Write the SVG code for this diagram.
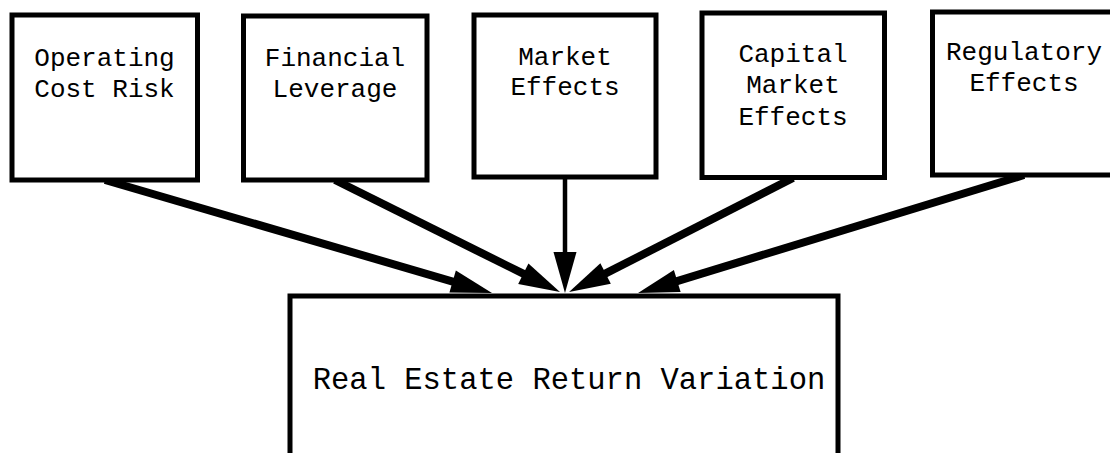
<svg xmlns="http://www.w3.org/2000/svg" width="1110" height="453" viewBox="0 0 1110 453">
  <style>
    .box { fill: #ffffff; stroke: #000000; stroke-width: 5; }
    .lbl { font-family: "Liberation Mono", "Courier New", monospace; font-size: 26px; fill: #000000; text-anchor: middle; }
    .big { font-family: "Liberation Mono", "Courier New", monospace; font-size: 30.5px; fill: #000000; text-anchor: middle; }
    .conn { stroke: #000000; stroke-width: 8; fill: none; stroke-linecap: butt; }
    .thin { stroke-width: 4.5; }
  </style>
  <defs>
    <marker id="ah" markerUnits="userSpaceOnUse" markerWidth="44" markerHeight="26" viewBox="-2 -12 44 24" refX="0" refY="0" orient="auto">
      <path d="M-1,-11.5 L40,0 L-1,11.5 Z" fill="#000000"/>
    </marker>
  </defs>
  <rect width="1110" height="453" fill="#ffffff"/>

  <g id="connectors">
    <line class="conn" x1="105" y1="180" x2="453.6" y2="281.8" marker-end="url(#ah)"/>
    <line class="conn" x1="335" y1="180" x2="524.2" y2="274.2" marker-end="url(#ah)"/>
    <line class="conn thin" x1="565" y1="177" x2="565" y2="253" marker-end="url(#ah)"/>
    <line class="conn" x1="793" y1="178" x2="604.7" y2="273.9" marker-end="url(#ah)"/>
    <line class="conn" x1="1024" y1="175" x2="676.3" y2="281.3" marker-end="url(#ah)"/>
  </g>

  <g id="node-operating">
    <rect class="box" x="12" y="15" width="185.5" height="165"/>
    <text class="lbl" x="104.5" y="66">Operating</text>
    <text class="lbl" x="104.5" y="97">Cost Risk</text>
  </g>
  <g id="node-financial">
    <rect class="box" x="243.5" y="16" width="183.5" height="164"/>
    <text class="lbl" x="335" y="66">Financial</text>
    <text class="lbl" x="335" y="97">Leverage</text>
  </g>
  <g id="node-market">
    <rect class="box" x="474" y="15" width="182" height="162"/>
    <text class="lbl" x="565" y="65">Market</text>
    <text class="lbl" x="565" y="95">Effects</text>
  </g>
  <g id="node-capital">
    <rect class="box" x="702" y="13" width="182.5" height="164.5"/>
    <text class="lbl" x="793" y="62">Capital</text>
    <text class="lbl" x="793" y="93">Market</text>
    <text class="lbl" x="793" y="125">Effects</text>
  </g>
  <g id="node-regulatory">
    <rect class="box" x="932.5" y="12" width="184" height="163"/>
    <text class="lbl" x="1024" y="60">Regulatory</text>
    <text class="lbl" x="1024" y="91">Effects</text>
  </g>
  <g id="node-return">
    <rect class="box" x="290" y="296" width="548" height="180"/>
    <text class="big" x="569" y="389">Real Estate Return Variation</text>
  </g>
</svg>
